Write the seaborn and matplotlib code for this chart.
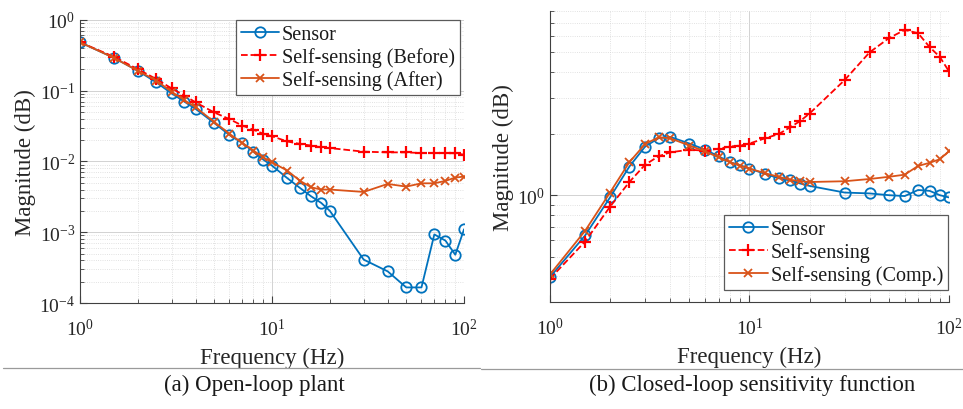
import numpy as np
import matplotlib
matplotlib.use('Agg')
from matplotlib import pyplot as plt
from matplotlib.lines import Line2D
from matplotlib.ticker import LogLocator, FixedLocator, NullFormatter, LogFormatterMathtext
import seaborn as sns

# Frequencies (Hz) shared by every curve
freq = [1, 1.5, 2, 2.5, 3, 3.5, 4, 5, 6, 7, 8, 9, 10, 12, 14, 16, 18, 20,
        30, 40, 50, 60, 70, 80, 90, 100]

# (a) Open-loop plant
open_sensor = [0.48, 0.29, 0.19, 0.13, 0.091, 0.0695, 0.055, 0.0348, 0.0235, 0.0182,
               0.0137, 0.0106, 0.0087, 0.0058, 0.0042, 0.0032, 0.0026, 0.0020,
               0.00041, 0.00028, 0.000166, 0.000166, 0.00093, 0.00076, 0.00048, 0.0011]
open_before = [0.48, 0.30, 0.20, 0.145, 0.107, 0.085, 0.068, 0.049, 0.0395, 0.032,
               0.028, 0.0245, 0.0226, 0.0191, 0.0176, 0.0167, 0.0158, 0.0154,
               0.0137, 0.0134, 0.0134, 0.0131, 0.0131, 0.0131, 0.0130, 0.0124]
open_after = [0.48, 0.29, 0.19, 0.138, 0.096, 0.073, 0.058, 0.036, 0.0245, 0.0182,
              0.0142, 0.0114, 0.0097, 0.0074, 0.0053, 0.0043, 0.0040, 0.0040,
              0.0037, 0.0048, 0.0044, 0.0049, 0.0049, 0.0053, 0.0059, 0.0061]

# (b) Closed-loop sensitivity function
closed_sensor = [0.397, 0.635, 0.975, 1.38, 1.73, 1.90, 1.93, 1.79, 1.67, 1.55,
                 1.45, 1.40, 1.35, 1.27, 1.21, 1.18, 1.14, 1.11,
                 1.03, 1.02, 1.0, 0.99, 1.06, 1.05, 1.0, 0.975]
closed_self = [0.39, 0.593, 0.878, 1.16, 1.41, 1.55, 1.62, 1.67, 1.65, 1.69,
               1.73, 1.75, 1.79, 1.90, 1.99, 2.15, 2.31, 2.51,
               3.66, 5.0, 5.87, 6.44, 6.21, 5.31, 4.75, 4.04]
closed_comp = [0.409, 0.669, 1.03, 1.45, 1.78, 1.92, 1.90, 1.75, 1.64, 1.53,
               1.45, 1.39, 1.35, 1.28, 1.23, 1.19, 1.17, 1.16,
               1.17, 1.20, 1.23, 1.26, 1.39, 1.44, 1.50, 1.64]

labels_a = ['Sensor', 'Self-sensing (Before)', 'Self-sensing (After)']
labels_b = ['Sensor', 'Self-sensing', 'Self-sensing (Comp.)']

BLUE = '#0072BD'
RED = '#FF0000'
ORANGE = '#D95319'
AXC = '#404040'

sns.set_style('ticks')
plt.rcParams['font.family'] = ['Liberation Serif', 'DejaVu Serif']
plt.rcParams['mathtext.fontset'] = 'stix'


def draw_series(ax, s1, s2, s3, labels):
    sns.lineplot(x=freq, y=s1, ax=ax, color=BLUE, lw=1.3, marker='o', markersize=7.5,
                 markerfacecolor='none', markeredgecolor=BLUE, markeredgewidth=1.3,
                 label=labels[0])
    sns.lineplot(x=freq, y=s2, ax=ax, color=RED, lw=1.3, linestyle='--', marker='+',
                 markersize=9, markeredgewidth=1.6, markeredgecolor=RED, label=labels[1])
    sns.lineplot(x=freq, y=s3, ax=ax, color=ORANGE, lw=1.3, marker='x', markersize=5.5,
                 markeredgewidth=1.3, markeredgecolor=ORANGE, label=labels[2])


def style_axes(ax):
    ax.set_xscale('log')
    ax.set_yscale('log')
    ax.set_xlim(1, 100)
    for side in ['top', 'right']:
        ax.spines[side].set_visible(False)
    for side in ['left', 'bottom']:
        ax.spines[side].set_color(AXC)
        ax.spines[side].set_linewidth(0.8)
    ax.tick_params(which='both', direction='in', colors=AXC, labelcolor='#262626',
                   labelsize=14)
    ax.tick_params(which='major', length=5, width=0.8)
    ax.tick_params(which='minor', length=3, width=0.6)
    ax.tick_params(axis='x', which='both', pad=11)
    ax.xaxis.set_major_locator(FixedLocator([1, 10, 100]))
    ax.xaxis.set_major_formatter(LogFormatterMathtext())
    ax.xaxis.set_minor_locator(LogLocator(base=10, subs=np.arange(2, 10), numticks=20))
    ax.xaxis.set_minor_formatter(NullFormatter())
    ax.grid(True, which='major', color='#d2d2d2', lw=0.7)
    ax.grid(True, which='minor', color='#d8d8d8', lw=0.6, linestyle=':')
    ax.set_axisbelow(True)
    ax.set_xlabel('Frequency (Hz)', fontsize=16.5, color='#262626', labelpad=5.5)
    ax.set_ylabel('Magnitude (dB)', fontsize=16.5, color='#262626', labelpad=2)


fig = plt.figure(figsize=(9.63, 4.10), dpi=100)
ax1 = fig.add_axes([0.0831, 0.2585, 0.3988, 0.691])
ax2 = fig.add_axes([0.5711, 0.261, 0.4143, 0.7105])

# Left: open-loop plant
style_axes(ax1)
draw_series(ax1, open_sensor, open_before, open_after, labels_a)
ax1.set_ylim(1e-4, 1)
ax1.yaxis.set_major_locator(FixedLocator([1e-4, 1e-3, 1e-2, 1e-1, 1]))
ax1.yaxis.set_major_formatter(LogFormatterMathtext())
ax1.yaxis.set_minor_locator(LogLocator(base=10, subs=np.arange(2, 10), numticks=20))
ax1.yaxis.set_minor_formatter(NullFormatter())

# Right: closed-loop sensitivity
style_axes(ax2)
draw_series(ax2, closed_sensor, closed_self, closed_comp, labels_b)
ax2.set_ylim(0.3, 8)
ax2.yaxis.set_major_locator(FixedLocator([1]))
ax2.yaxis.set_major_formatter(LogFormatterMathtext())
ax2.yaxis.set_minor_locator(FixedLocator([0.3, 0.4, 0.5, 0.6, 0.7, 0.8, 0.9, 2, 3, 4, 5, 6, 7, 8]))
ax2.yaxis.set_minor_formatter(NullFormatter())

leg_kw = dict(fontsize=14.5, frameon=True, fancybox=False, framealpha=1,
              edgecolor='#5a5a5a', handlelength=1.9, handletextpad=0.15,
              labelspacing=0.15, borderpad=0.25, borderaxespad=0)
leg1 = ax1.legend(loc='upper right', bbox_to_anchor=(0.9896, 1.0), **leg_kw)
leg2 = ax2.legend(loc='lower right', bbox_to_anchor=(0.9975, 0.041), **leg_kw)
for leg in (leg1, leg2):
    leg.get_frame().set_linewidth(0.9)
    for t in leg.get_texts():
        t.set_color('#1a1a1a')

# panel separators and captions
fig.add_artist(Line2D([3 / 963, 480 / 963], [41 / 410, 41 / 410], color='#9a9a9a', lw=0.9))
fig.add_artist(Line2D([481 / 963, 1.0], [40 / 410, 40 / 410], color='#9a9a9a', lw=0.9))
fig.text(254 / 963, 25 / 410, '(a) Open-loop plant', ha='center', va='center',
         fontsize=16.5, color='#1a1a1a')
fig.text(752 / 963, 25 / 410, '(b) Closed-loop sensitivity function', ha='center',
         va='center', fontsize=16.5, color='#1a1a1a')

fig.savefig('out.png', dpi=100, facecolor='white')
